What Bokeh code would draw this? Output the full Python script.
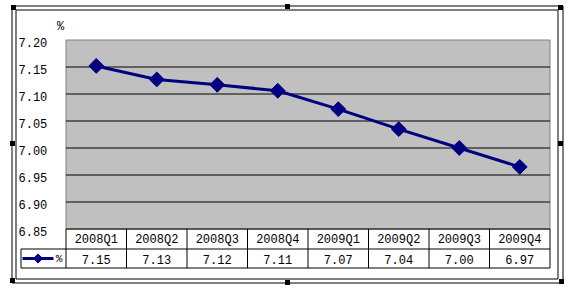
import math
from bokeh.plotting import figure
from bokeh.models import Range1d
from bokeh.core.properties import value
from bokeh.embed import file_html
from bokeh.resources import INLINE

# ---- data ----
categories = ["2008Q1", "2008Q2", "2008Q3", "2008Q4", "2009Q1", "2009Q2", "2009Q3", "2009Q4"]
rates = [7.152, 7.127, 7.117, 7.106, 7.072, 7.035, 7.000, 6.965]
table_labels = ["7.15", "7.13", "7.12", "7.11", "7.07", "7.04", "7.00", "6.97"]
y_ticks = [7.20, 7.15, 7.10, 7.05, 7.00, 6.95, 6.90, 6.85]
y_tick_labels = ["7.20", "7.15", "7.10", "7.05", "7.00", "6.95", "6.90", "6.85"]
series_name = "%"
unit_label = "%"

W, H = 575, 291
COLW = 60.5
PX_PER_UNIT = 540.0
Y_TOP = 7.20
Y_BOT = 6.85


def X(px):
    return (px - 65.5) / COLW - 0.5


def Y(py):
    return Y_TOP - (py - 39.5) / PX_PER_UNIT


p = figure(width=W, height=H, output_backend="svg", toolbar_location=None,
           x_axis_type=None, y_axis_type=None, min_border=0,
           x_range=Range1d(X(0), X(W)), y_range=Range1d(Y(H), Y(0)))
p.outline_line_color = None
p.grid.visible = False
p.background_fill_color = "white"
p.border_fill_color = "white"

FONT = value("Liberation Mono")
n = len(categories)
xs = list(range(n))
left, right = -0.5, n - 0.5

# outer double frame
for (l, t, r, b) in [(11.5, 5.5, 562.5, 282.5), (15.5, 9.5, 557.5, 278.5)]:
    p.quad(left=X(l), right=X(r), top=Y(t), bottom=Y(b), fill_color=None,
           line_color="black", line_width=1)

# selection handles
hx = [13, 287, 560, 12, 560, 12, 287, 561]
hy = [7, 6, 7, 143, 143, 280, 282, 281]
p.rect(x=[X(v) for v in hx], y=[Y(v) for v in hy], width=5, height=5,
       width_units="screen", height_units="screen", fill_color="black", line_color=None)

# plot area
p.quad(left=left, right=right, top=Y_TOP, bottom=Y_BOT, fill_color="#C0C0C0",
       line_color="#808080", line_width=1)

# gridlines
grid_vals = [v for v in y_ticks if Y_BOT < v < Y_TOP]
p.segment(x0=[left] * len(grid_vals), x1=[right] * len(grid_vals), y0=grid_vals, y1=grid_vals,
          line_color="black", line_width=1)

# y tick labels
p.text(x=[X(18)] * len(y_ticks), y=[v - 2 / PX_PER_UNIT for v in y_ticks], text=y_tick_labels,
       text_font=FONT, text_font_size="12px", text_align="left", text_baseline="middle",
       text_color="black")
p.text(x=[X(60)], y=[Y(26)], text=[unit_label], text_font=FONT, text_font_size="12px",
       text_align="center", text_baseline="middle", text_color="black")

# data table lines
p.segment(x0=[left, X(20.5), X(20.5)], x1=[right, right, right],
          y0=[Y_BOT, Y(248.5), Y(267.5)], y1=[Y_BOT, Y(248.5), Y(267.5)],
          line_color="black", line_width=1)
vx = [k - 0.5 for k in range(n + 1)]
p.segment(x0=vx, x1=vx, y0=[Y_BOT] * len(vx), y1=[Y(267.5)] * len(vx),
          line_color="black", line_width=1)
p.segment(x0=[X(20.5)], x1=[X(20.5)], y0=[Y(248.5)], y1=[Y(267.5)], line_color="black", line_width=1)

# table text
p.text(x=xs, y=[Y(239)] * n, text=categories, text_font=FONT, text_font_size="12px",
       text_align="center", text_baseline="middle", text_color="black")
p.text(x=xs, y=[Y(259)] * n, text=table_labels, text_font=FONT, text_font_size="12px",
       text_align="center", text_baseline="middle", text_color="black")

# legend key
p.line(x=[X(22), X(53)], y=[Y(258), Y(258)], line_color="#000080", line_width=3)
p.scatter(x=[X(37.5)], y=[Y(258)], marker="square", angle=math.pi / 4, size=6.5,
          fill_color="#000080", line_color="#000080")
p.text(x=[X(58.5)], y=[Y(258.5)], text=[series_name], text_font=FONT, text_font_size="11px",
       text_align="center", text_baseline="middle", text_color="black")

# series
p.line(x=xs, y=rates, line_color="#000080", line_width=3)
p.scatter(x=xs, y=rates, marker="square", angle=math.pi / 4, size=10.5,
          fill_color="#000080", line_color="#000080")

open("out.html", "w").write(file_html(p, INLINE))
